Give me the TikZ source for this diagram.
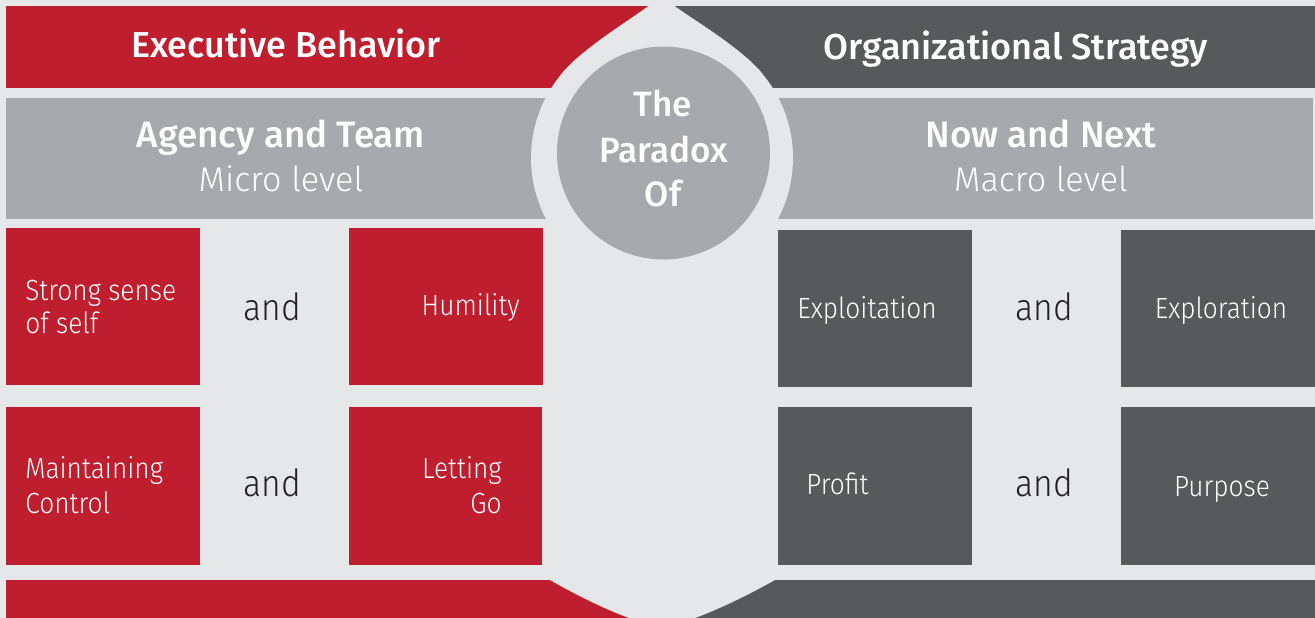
\documentclass[tikz,border=0pt]{standalone}
\usepackage{fontspec}
\setmainfont{Fira Sans}
\newfontfamily\lightfont{Fira Sans Light}
\newfontfamily\narrowfont[FakeStretch=0.9]{Fira Sans Light}
\newfontfamily\medfont{Fira Sans Medium}
\definecolor{paper}{HTML}{E6E7E8}
\definecolor{brandred}{HTML}{BE1E2D}
\definecolor{slate}{HTML}{58595B}
\definecolor{silver}{HTML}{A7A9AC}
\definecolor{ink}{HTML}{231F20}
\begin{document}
\begin{tikzpicture}[x=0.02cm,y=-0.02cm,
  panel/.style={rectangle,inner sep=0pt,anchor=north west,draw=none},
  heading/.style={text=white,font=\medfont\fontsize{20.5}{24}\selectfont,inner sep=0pt,anchor=base},
  subheading/.style={text=white,font=\medfont\fontsize{20.9}{24}\selectfont,inner sep=0pt,anchor=base},
  sublevel/.style={text=white,font=\lightfont\fontsize{19.5}{24}\selectfont,inner sep=0pt,anchor=base},
  disctext/.style={text=white,font=\medfont\fontsize{20}{24}\selectfont,inner sep=0pt,anchor=base},
  celltext/.style={text=white,font=\narrowfont\fontsize{16.6}{19}\selectfont,inner sep=0pt},
  joiner/.style={text=ink,font=\narrowfont\fontsize{21.3}{26}\selectfont,inner sep=0pt,anchor=base}]
% page
\fill[paper] (0,0) rectangle (1315,618);
\useasboundingbox (0,0) rectangle (1315,618);

% banners and level bars
\node[panel,fill=brandred,minimum width=13.12cm,minimum height=1.64cm] (leftbanner) at (6,6) {};
\node[panel,fill=slate,minimum width=13.06cm,minimum height=1.64cm] (rightbanner) at (662,6) {};
\node[panel,fill=silver,minimum width=26.14cm,minimum height=2.42cm] (levelbar) at (6,98) {};
\node[panel,fill=brandred,minimum width=13.12cm,minimum height=1.00cm] (leftfoot) at (6,580) {};
\node[panel,fill=slate,minimum width=13.06cm,minimum height=1.00cm] (rightfoot) at (662,580) {};

% onion-shaped opening in the middle
\fill[paper] (662,158) circle[radius=2.62cm];
\fill[paper] (661,-4) .. controls (640,15) and (587.3,43.2) .. (561.6,73.8)
  -- (662,158) -- (762.4,73.8) .. controls (736.7,43.2) and (684,15) .. (661,-4) -- cycle;
\fill[paper] (547,219) rectangle (777,580);
\fill[paper] (550,570) -- (550,580) .. controls (585,600) and (630,622) .. (662,627)
  .. controls (694,622) and (739,600) .. (775,580) -- (775,570) -- cycle;

% central disc
\node[circle,fill=silver,minimum size=4.26cm,inner sep=0pt] (disc) at (663.5,153) {};
\node[disctext] (discA) at (663,117) {The};
\node[disctext] (discB) at (664,163) {Paradox};
\node[disctext] (discC) at (663,207) {Of};

% headings
\node[heading] (exec) at (286,58) {Executive Behavior};
\node[heading] (org) at (1016,60) {Organizational Strategy};
\node[subheading] (agency) at (281,148) {Agency and Team};
\node[sublevel] (micro) at (281,192) {Micro level};
\node[subheading] (now) at (1041,148) {Now and Next};
\node[sublevel] (macro) at (1041,192) {Macro level};

% paired cells
\node[panel,fill=brandred,minimum width=3.88cm,minimum height=3.14cm] (c11) at (6,228) {};
\node[panel,fill=brandred,minimum width=3.88cm,minimum height=3.14cm] (c12) at (349,228) {};
\node[panel,fill=brandred,minimum width=3.88cm,minimum height=3.16cm] (c21) at (6,407) {};
\node[panel,fill=brandred,minimum width=3.86cm,minimum height=3.16cm] (c22) at (349,407) {};
\node[panel,fill=slate,minimum width=3.88cm,minimum height=3.14cm] (d11) at (778,230) {};
\node[panel,fill=slate,minimum width=3.88cm,minimum height=3.14cm] (d12) at (1121,230) {};
\node[panel,fill=slate,minimum width=3.88cm,minimum height=3.16cm] (d21) at (778,407) {};
\node[panel,fill=slate,minimum width=3.88cm,minimum height=3.16cm] (d22) at (1121,407) {};

% cell labels
\node[celltext,anchor=base west] (t11) at (25,300) {Strong sense};
\node[celltext,anchor=base west] (t11b) at (25,333) {of self};
\node[celltext,anchor=base east] (t12) at (520,316) {Humility};
\node[celltext,anchor=base west] (t21) at (25,478) {Maintaining};
\node[celltext,anchor=base west] (t21b) at (25,513) {Control};
\node[celltext,anchor=base east] (t22) at (502,478) {Letting};
\node[celltext,anchor=base east] (t22b) at (502,513) {Go};
\node[celltext,anchor=base west] (u11) at (797,318) {Exploitation};
\node[celltext,anchor=base] (u12) at (1221,318) {Exploration};
\node[celltext,anchor=base west] (u21) at (806,494) {Profit};
\node[celltext,anchor=base] (u22) at (1222,496) {Purpose};

% conjunctions
\node[joiner] (and1) at (272,320) {and};
\node[joiner] (and2) at (272,496) {and};
\node[joiner] (and3) at (1044,320) {and};
\node[joiner] (and4) at (1044,496) {and};
\end{tikzpicture}
\end{document}
